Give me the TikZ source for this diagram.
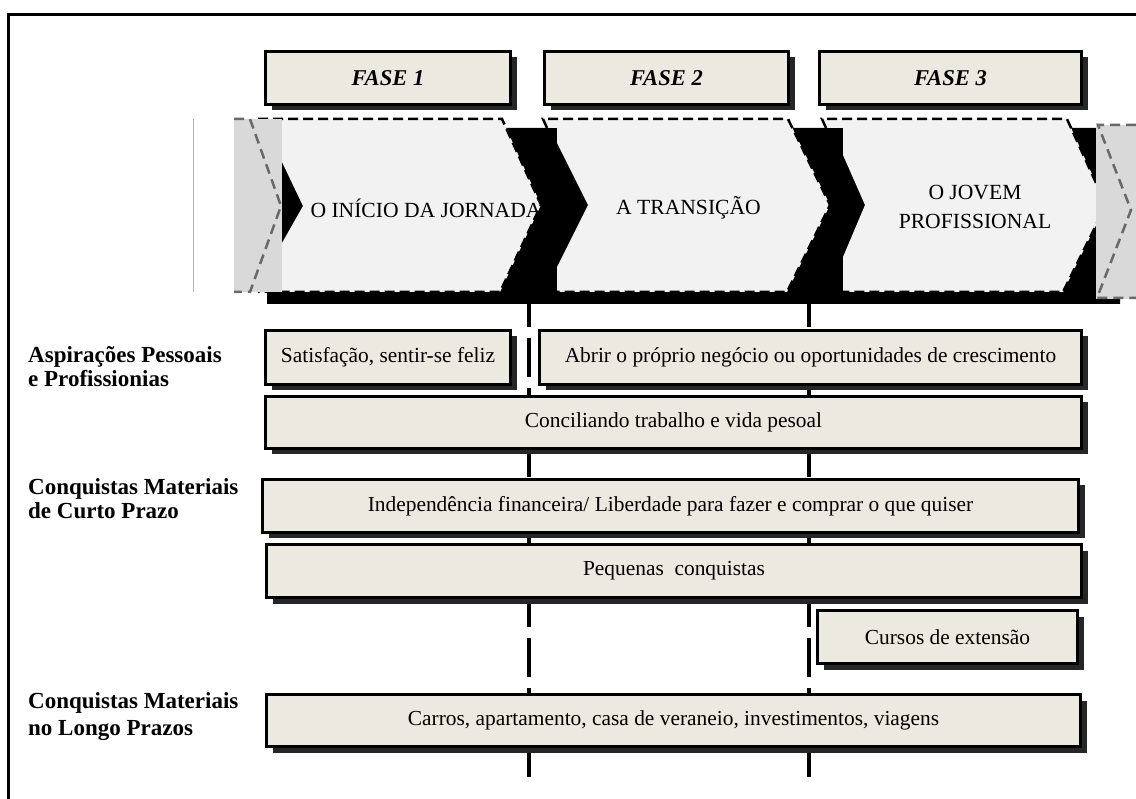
\documentclass[tikz,border=0pt]{standalone}
\usepackage{fontspec}
\setmainfont{Liberation Serif}
\usetikzlibrary{shadows}
\definecolor{boxfill}{RGB}{236,233,224}
\definecolor{chevfill}{RGB}{242,242,242}
\definecolor{sidegray}{RGB}{217,217,217}
\definecolor{dashgray}{RGB}{105,105,105}
\begin{document}
\begin{tikzpicture}[x=1pt,y=-1pt,
  box/.style={draw=black, line width=3pt, fill=boxfill, inner sep=0pt,
    font=\fontsize{21.4}{26}\selectfont,
    drop shadow={shadow xshift=6pt, shadow yshift=-6pt, fill=black!85, opacity=1}},
  phasebox/.style={box, font=\fontsize{22.6}{26}\selectfont\bfseries\itshape},
  rowlabel/.style={anchor=west, align=left, inner sep=0pt,
    font=\fontsize{23}{24}\selectfont\bfseries},
  chevtext/.style={inner sep=0pt, align=center, font=\fontsize{21.6}{29}\selectfont},
  sepline/.style={line width=4pt, black, dash pattern=on 39pt off 11pt, dash phase=15pt},
  chevline/.style={draw=black, line width=2.5pt, dash pattern=on 10pt off 5pt},
  sidedash/.style={draw=dashgray, line width=2.5pt, dash pattern=on 10pt off 6pt},
]
\useasboundingbox (0,0) rectangle (1136,799);

% outer frame (left and top sides)
\coordinate (frameBL) at (8.5,799);
\coordinate (frameTL) at (8.5,14.5);
\coordinate (frameTR) at (1136,14.5);
\draw[line width=3pt] (frameBL) -- (frameTL) -- (frameTR);

% thin rule left of the phase band
\draw[black!30, line width=1pt] (193,119) -- (193,292);

% black shadow band behind the chevrons
\fill[black] (267,128) -- (1096,128) -- (1096,292) -- (1120,292) -- (1120,304) -- (267,304) -- cycle;

% chevron faces
\fill[chevfill] (250,119) -- (502,119) -- (541,205) -- (500,292) -- (282,292) -- (282,243)
  -- (303,206) -- (282,162) -- (250,162) -- cycle;
\fill[chevfill] (543,119) -- (788,119) -- (830,205) -- (787,292) -- (557,292) -- (557,267)
  -- (588,205) -- (557,143) -- (557,128) -- (547,128) -- cycle;
\fill[chevfill] (822,119) -- (1067,119) -- (1106,205) -- (1063,292) -- (843,292) -- (843,257)
  -- (865,205) -- (843,155) -- (843,128) -- (826,128) -- cycle;

% dashed chevron outlines
\draw[chevline] (258,119) -- (502,119) -- (541,205) -- (500,292) -- (258,292);
\draw[chevline] (547,128) -- (543,119) -- (788,119) -- (830,205) -- (787,292) -- (557,292);
\draw[chevline] (826,128) -- (822,119) -- (1067,119) -- (1106,205) -- (1063,292) -- (843,292);

% grey end pieces
\fill[sidegray] (234,119) rectangle (282,292);
\draw[sidedash] (234,119) -- (250,119) -- (281,206) -- (250,292) -- (234,292);
\fill[sidegray] (1096,125) rectangle (1136,299);
\draw[sidedash] (1136,125) -- (1098,125) -- (1131,210) -- (1097,298) -- (1136,298);

% chevron titles
\node[chevtext] (c1) at (426,208) {O INÍCIO DA JORNADA};
\node[chevtext] (c2) at (688.5,208) {A TRANSIÇÃO};
\node[chevtext] (c3) at (975,207) {O JOVEM\\PROFISSIONAL};

% phase separators
\coordinate (s1top) at (529,303);
\coordinate (s1bot) at (529,785);
\coordinate (s2top) at (809,303);
\coordinate (s2bot) at (809,785);
\draw[sepline] (s1top) -- (s1bot);
\draw[sepline] (s2top) -- (s2bot);

% phase headers
\node[phasebox, minimum width=245pt, minimum height=53pt] (f1) at (388,78) {FASE 1};
\node[phasebox, minimum width=244pt, minimum height=53pt] (f2) at (666.5,78) {FASE 2};
\node[phasebox, minimum width=262pt, minimum height=53pt] (f3) at (950.5,78) {FASE 3};

% content boxes
\node[box, minimum width=245pt, minimum height=54pt] (sat) at (388,357.5) {Satisfação, sentir-se feliz};
\node[box, minimum width=542pt, minimum height=54pt] (abr) at (810.5,357.5) {Abrir o próprio negócio ou oportunidades de crescimento};
\node[box, minimum width=816pt, minimum height=52pt] (con) at (673.5,422.5) {Conciliando trabalho e vida pesoal};
\node[box, minimum width=816pt, minimum height=53pt] (ind) at (670.5,506) {Independência financeira/ Liberdade para fazer e comprar o que quiser};
\node[box, minimum width=815pt, minimum height=53pt] (peq) at (674,571) {Pequenas \ conquistas};
\node[box, minimum width=260pt, minimum height=53pt] (cur) at (947.5,637) {Cursos de extensão};
\node[box, minimum width=814pt, minimum height=52pt] (car) at (673.5,720.5) {Carros, apartamento, casa de veraneio, investimentos, viagens};

% row labels
\node[rowlabel] (l1) at (28,366.5) {Aspirações Pessoais\\e Profissionias};
\node[rowlabel] (l2) at (28,498.5) {Conquistas Materiais\\de Curto Prazo};
\node[rowlabel, font=\fontsize{23}{27}\selectfont\bfseries] (l3) at (28,716.5) {Conquistas Materiais\\no Longo Prazos};
\end{tikzpicture}
\end{document}
